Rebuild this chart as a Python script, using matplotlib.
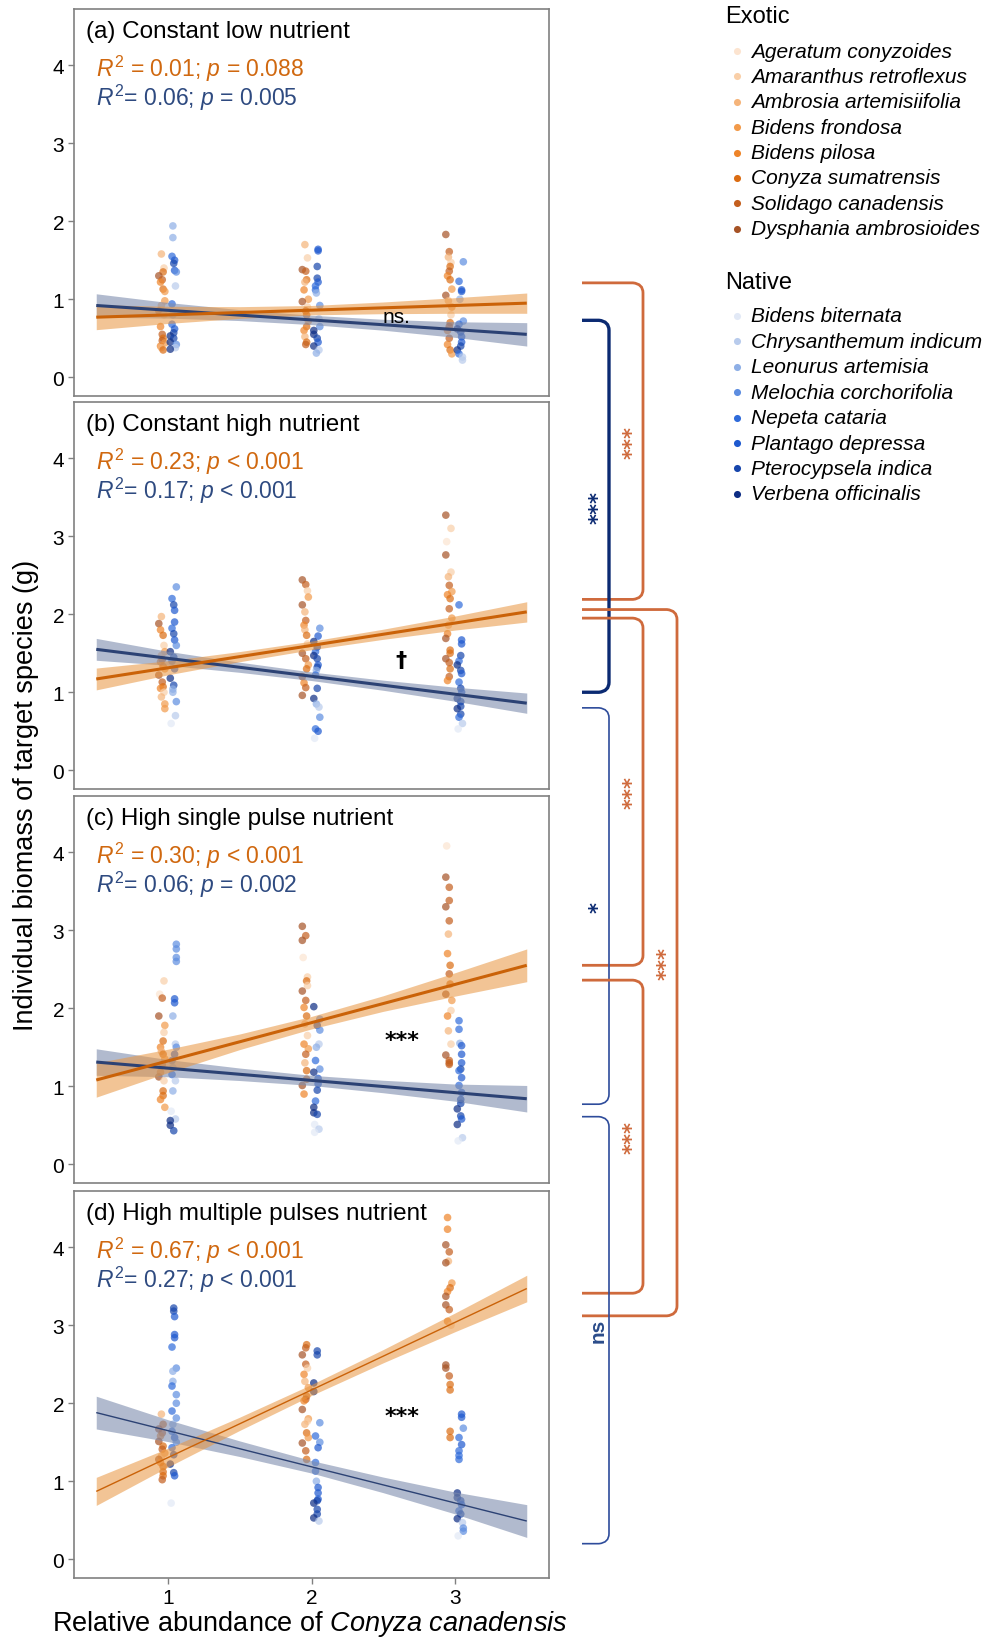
#!/usr/bin/env python3
"""Biomass of exotic vs native target species along Conyza canadensis abundance."""

import numpy as np
import matplotlib
matplotlib.use('Agg')
import matplotlib.pyplot as plt
from matplotlib.path import Path
from matplotlib.patches import PathPatch

plt.rcParams['font.family'] = ['Liberation Sans', 'DejaVu Sans']
plt.rcParams['mathtext.fontset'] = 'custom'
plt.rcParams['mathtext.rm'] = 'Liberation Sans'
plt.rcParams['mathtext.it'] = 'Liberation Sans:italic'

# ---- data -----------------------------------------------------------------
abundance = [1, 2, 3]

exotic_species = ['Ageratum conyzoides', 'Amaranthus retroflexus', 'Ambrosia artemisiifolia',
                  'Bidens frondosa', 'Bidens pilosa', 'Conyza sumatrensis',
                  'Solidago canadensis', 'Dysphania ambrosioides']
native_species = ['Bidens biternata', 'Chrysanthemum indicum', 'Leonurus artemisia',
                  'Melochia corchorifolia', 'Nepeta cataria', 'Plantago depressa',
                  'Pterocypsela indica', 'Verbena officinalis']
exotic_colors = ['#FCE4D0', '#F9CFA8', '#F5B47A', '#F29A4A', '#EE8428', '#DB6C12', '#C45F1E', '#A65326']
native_colors = ['#E2E9F6', '#B8CBEC', '#8EAFE6', '#5D8DE0', '#2F6BDA', '#1E59CF', '#1746AC', '#0D2D84']

panel_titles = ['(a) Constant low nutrient', '(b) Constant high nutrient',
                '(c) High single pulse nutrient', '(d) High multiple pulses nutrient']
exotic_stats = [r'$R^2$ = 0.01; $p$ = 0.088', r'$R^2$ = 0.23; $p$ < 0.001',
                r'$R^2$ = 0.30; $p$ < 0.001', r'$R^2$ = 0.67; $p$ < 0.001']
native_stats = [r'$R^2$= 0.06; $p$ = 0.005', r'$R^2$= 0.17; $p$ < 0.001',
                r'$R^2$= 0.06; $p$ = 0.002', r'$R^2$= 0.27; $p$ < 0.001']
slope_diff = ['ns.', '\u2020', '***', '***']
slope_diff_xy = [(2.59, 0.78), (2.62, 1.41), (2.63, 1.59), (2.63, 1.84)]

# individual biomass (g) per abundance level, with species code per point
exo_a = [[1.58, 1.40, 1.35, 1.30, 1.25, 1.22, 1.13, 1.10, 0.98, 0.92, 0.85, 0.80, 0.65, 0.55, 0.50, 0.47, 0.44, 0.40, 0.38, 0.35],
         [1.70, 1.53, 1.38, 1.36, 1.25, 1.22, 1.12, 1.00, 0.97, 0.90, 0.85, 0.80, 0.72, 0.65, 0.60, 0.52, 0.45, 0.42],
         [1.83, 1.61, 1.54, 1.47, 1.42, 1.36, 1.30, 1.25, 1.13, 1.05, 0.98, 0.90, 0.80, 0.70, 0.65, 0.60, 0.50, 0.42, 0.35, 0.30]]
exo_a_sp = ['21576453327146563425', '217652437165354256', '76215645372315646453']
nat_a = [[1.94, 1.79, 1.55, 1.50, 1.46, 1.37, 1.35, 1.17, 0.94, 0.80, 0.68, 0.62, 0.57, 0.53, 0.50, 0.45, 0.42, 0.38, 0.36],
         [1.64, 1.62, 1.42, 1.27, 1.22, 1.17, 1.12, 1.08, 0.92, 0.75, 0.65, 0.60, 0.55, 0.50, 0.45, 0.40, 0.35, 0.31],
         [1.48, 1.23, 1.12, 1.10, 1.00, 0.72, 0.68, 0.62, 0.58, 0.52, 0.45, 0.40, 0.35, 0.30, 0.26, 0.22]]
nat_a_sp = ['2245653142456767317', '556654423137765712', '3455234765567411']

exo_b = [[1.97, 1.88, 1.80, 1.73, 1.60, 1.52, 1.47, 1.42, 1.39, 1.33, 1.30, 1.22, 1.13, 1.07, 1.05, 1.00, 0.94, 0.85, 0.79],
         [2.44, 2.38, 2.30, 2.22, 2.12, 2.03, 1.92, 1.86, 1.80, 1.73, 1.62, 1.50, 1.43, 1.35, 1.30, 1.20, 1.12, 1.06, 0.96],
         [3.27, 3.10, 2.93, 2.76, 2.54, 2.48, 2.37, 2.29, 2.25, 2.20, 2.07, 1.95, 1.86, 1.75, 1.69, 1.54, 1.50, 1.43, 1.38, 1.30, 1.20, 1.15]]
exo_b_sp = ['2745132645376541233', '7613726425176357467', '7107126345632475576564']
nat_b = [[2.35, 2.20, 2.12, 2.05, 1.90, 1.82, 1.75, 1.67, 1.60, 1.52, 1.45, 1.40, 1.30, 1.18, 1.09, 1.04, 1.00, 0.88, 0.70, 0.60],
         [1.82, 1.72, 1.65, 1.58, 1.52, 1.47, 1.43, 1.35, 1.32, 1.28, 1.22, 1.05, 0.92, 0.85, 0.81, 0.68, 0.53, 0.50, 0.41],
         [2.12, 1.67, 1.62, 1.47, 1.40, 1.35, 1.28, 1.24, 1.13, 1.05, 1.00, 0.92, 0.88, 0.82, 0.79, 0.72, 0.68, 0.60, 0.53]]
nat_b_sp = ['34655465376457622310', '3576476562467213450', '4556476546576676410']

exo_c = [[2.35, 2.18, 2.13, 1.90, 1.78, 1.69, 1.58, 1.50, 1.45, 1.41, 1.35, 1.28, 1.18, 1.12, 1.07, 0.94, 0.88, 0.83, 0.73],
         [3.05, 2.93, 2.87, 2.65, 2.40, 2.35, 2.29, 2.22, 2.10, 2.01, 1.90, 1.80, 1.65, 1.54, 1.48, 1.41, 1.30, 1.20, 1.09, 1.01, 0.90],
         [4.08, 3.68, 3.55, 3.38, 3.30, 3.12, 2.95, 2.70, 2.55, 2.44, 2.31, 2.18, 2.10, 1.97, 1.90, 1.71, 1.54, 1.40, 1.33, 1.30, 1.28]]
exo_c_sp = ['1067315425364715543', '767015176452143625574', '076676245657314217666']
nat_c = [[2.82, 2.76, 2.65, 2.60, 2.12, 2.07, 1.90, 1.54, 1.50, 1.41, 1.33, 1.24, 1.15, 1.07, 0.94, 0.68, 0.58, 0.56, 0.50, 0.43],
         [2.02, 1.86, 1.78, 1.72, 1.54, 1.50, 1.33, 1.22, 1.18, 1.10, 1.03, 0.95, 0.81, 0.73, 0.66, 0.64, 0.51, 0.45, 0.41],
         [1.84, 1.73, 1.55, 1.52, 1.41, 1.30, 1.22, 1.20, 1.11, 1.01, 0.92, 0.83, 0.78, 0.71, 0.62, 0.58, 0.51, 0.34, 0.30]]
nat_c_sp = ['33335521354241201776', '7363124375564776010', '4425556454566765710']

exo_d = [[1.86, 1.73, 1.67, 1.62, 1.58, 1.51, 1.45, 1.41, 1.36, 1.32, 1.28, 1.24, 1.19, 1.12, 1.07, 1.02],
         [2.75, 2.71, 2.62, 2.50, 2.45, 2.37, 2.28, 2.20, 2.09, 2.05, 2.03, 1.92, 1.80, 1.77, 1.73, 1.62, 1.56, 1.49, 1.39, 1.28],
         [4.38, 4.23, 4.03, 3.94, 3.82, 3.80, 3.54, 3.48, 3.43, 3.37, 3.26, 3.20, 3.05, 3.00, 2.49, 2.45, 2.35, 2.24, 2.17, 1.64, 1.56]]
exo_d_sp = ['2576475632745556', '5676142356473125376', '447627354776417765555']
nat_d = [[3.22, 3.18, 3.11, 2.88, 2.84, 2.72, 2.45, 2.41, 2.28, 2.22, 2.11, 2.00, 1.90, 1.81, 1.73, 1.64, 1.56, 1.50, 1.43, 1.34, 1.22, 1.11, 1.07, 0.72],
         [2.67, 2.62, 2.26, 2.15, 1.75, 1.58, 1.50, 1.43, 1.24, 1.13, 1.00, 0.92, 0.85, 0.77, 0.75, 0.72, 0.64, 0.58, 0.53, 0.49],
         [1.86, 1.82, 1.68, 1.56, 1.47, 1.39, 1.33, 1.28, 0.85, 0.79, 0.75, 0.70, 0.62, 0.58, 0.52, 0.47, 0.40, 0.36, 0.30]]
nat_d_sp = ['665554322433432453467650', '66773435442555676671', '5534544477654671330']

# fitted lines: value at x = 0.5 and x = 3.5; confidence half-widths at band_x
line_x = [0.5, 3.5]
exo_fit = [[0.77, 0.95], [1.17, 2.03], [1.08, 2.55], [0.87, 3.47]]
nat_fit = [[0.92, 0.55], [1.55, 0.86], [1.31, 0.84], [1.88, 0.49]]
band_x = [0.5, 1.0, 1.5, 2.0, 2.5, 3.0, 3.5]
exo_band = [[0.16, 0.11, 0.075, 0.06, 0.075, 0.10, 0.13],
            [0.14, 0.09, 0.065, 0.055, 0.065, 0.09, 0.13],
            [0.22, 0.15, 0.10, 0.08, 0.10, 0.15, 0.21],
            [0.18, 0.12, 0.085, 0.07, 0.085, 0.12, 0.17]]
nat_band = [[0.15, 0.10, 0.07, 0.06, 0.07, 0.10, 0.15],
            [0.14, 0.09, 0.065, 0.055, 0.065, 0.09, 0.13],
            [0.17, 0.11, 0.08, 0.065, 0.08, 0.11, 0.17],
            [0.21, 0.14, 0.10, 0.08, 0.10, 0.14, 0.21]]

# pairwise comparisons between treatments: (group, panel_top, y_top, panel_bottom, y_bottom, label)
comparisons = [('exotic', 0, 1.21, 1, 2.19, '***'),
               ('native', 0, 0.73, 1, 1.00, '***'),
               ('exotic', 1, 2.06, 3, 3.12, '***'),
               ('exotic', 1, 1.95, 2, 2.55, '***'),
               ('native', 1, 0.80, 2, 0.77, '*'),
               ('exotic', 2, 2.36, 3, 3.41, '***'),
               ('native', 2, 0.61, 3, 0.20, 'ns')]

exo_points = [exo_a, exo_b, exo_c, exo_d]
exo_codes = [exo_a_sp, exo_b_sp, exo_c_sp, exo_d_sp]
nat_points = [nat_a, nat_b, nat_c, nat_d]
nat_codes = [nat_a_sp, nat_b_sp, nat_c_sp, nat_d_sp]

# ---- styling --------------------------------------------------------------
ORANGE = '#CA6208'
ORANGE_BAND = '#E8953F'
NAVY = '#2C4274'
NAVY_TEXT = '#2E4A80'
NAVY_BAND = '#7E8DAE'
BR_ORANGE = '#CF6A3C'
BR_NAVY = '#0B2A72'
BR_NAVY_THIN = '#2E4C9B'
SPINE = '#808080'
STAR_FONT = ['DejaVu Sans']

W, H = 989, 1640
fig = plt.figure(figsize=(W / 100, H / 100), dpi=100)
fig.patch.set_facecolor('white')

ax_left, ax_right = 74, 549
panel_tops = [10, 403, 797, 1192]
panel_h = 387
jitter = [-0.018, 0.012, -0.006, 0.018, -0.012, 0.006, 0.0, -0.024]

axes = []
for i in range(4):
    top = panel_tops[i]
    ax = fig.add_axes([ax_left / W, 1 - (top + panel_h) / H, (ax_right - ax_left) / W, panel_h / H])
    ax.set_xlim(0.345, 3.655)
    ax.set_ylim(-0.24, 4.72)
    for sp in ax.spines.values():
        sp.set_color(SPINE)
        sp.set_linewidth(1.2)
    ax.set_yticks([0, 1, 2, 3, 4])
    ax.tick_params(axis='y', labelsize=15, length=4, width=1, color=SPINE, pad=3)
    if i < 3:
        ax.set_xticks([])
    else:
        ax.set_xticks(abundance)
        ax.tick_params(axis='x', labelsize=15, length=4, width=1, color=SPINE, pad=3)

    for group, pts, codes, colors, shift in (
            ('exo', exo_points[i], exo_codes[i], exotic_colors, -0.04),
            ('nat', nat_points[i], nat_codes[i], native_colors, 0.04)):
        for xc, vals, code in zip(abundance, pts, codes):
            sp_idx = [int(code[k % len(code)]) % 8 for k in range(len(vals))]
            xs = [xc + shift + jitter[s] for s in sp_idx]
            cs = [colors[s] for s in sp_idx]
            ax.scatter(xs, vals, s=30, c=cs, alpha=0.7, linewidths=0, zorder=2)

    lw = 1.0 if i == 3 else 2.2
    for fit, band, col, bcol, balpha in ((nat_fit[i], nat_band[i], NAVY, NAVY_BAND, 0.6),
                                          (exo_fit[i], exo_band[i], ORANGE, ORANGE_BAND, 0.55)):
        centre = np.interp(band_x, line_x, fit)
        hw = np.array(band)
        ax.fill_between(band_x, centre - hw, centre + hw, color=bcol, alpha=balpha,
                        linewidth=0, zorder=3)
        ax.plot(line_x, fit, color=col, lw=lw, zorder=4, solid_capstyle='butt')

    ax.text(0.025, 0.943, panel_titles[i], transform=ax.transAxes, fontsize=17.5,
            va='center', ha='left', color='black')
    ax.text(0.046, 0.848, exotic_stats[i], transform=ax.transAxes, fontsize=16.5,
            va='center', ha='left', color='#D0680F')
    ax.text(0.046, 0.773, native_stats[i], transform=ax.transAxes, fontsize=16.5,
            va='center', ha='left', color=NAVY_TEXT)
    sx, sy = slope_diff_xy[i]
    if i == 0:
        ax.text(sx, sy, slope_diff[i], fontsize=15, ha='center', va='center',
                color='black', zorder=5)
    else:
        ax.text(sx, sy, slope_diff[i], fontsize=16, ha='center', va='center',
                color='black', fontweight='bold', family=STAR_FONT, zorder=5)
    axes.append(ax)

fig.text(26 / W, 1 - 795 / H, 'Individual biomass of target species (g)', rotation=90,
         fontsize=19.5, ha='center', va='center')
fig.text(310 / W, 1 - 1624 / H, r'Relative abundance of $\mathit{Conyza\ canadensis}$',
         fontsize=19.5, ha='center', va='center')

# overlay in pixel coordinates for legend and comparison brackets
over = fig.add_axes([0, 0, 1, 1], zorder=10)
over.set_xlim(0, W)
over.set_ylim(H, 0)
over.axis('off')
over.patch.set_alpha(0)


def to_px(ax, y):
    return H - ax.transData.transform((1.0, y))[1]


def bracket(x0, xv, ytop, ybot, color, lw):
    r = 10
    verts = [(x0, ytop), (xv - r, ytop), (xv, ytop + 1), (xv, ytop + r),
             (xv, ybot - r), (xv, ybot - 1), (xv - r, ybot), (x0, ybot)]
    codes = [Path.MOVETO, Path.LINETO, Path.CURVE3, Path.CURVE3,
             Path.LINETO, Path.CURVE3, Path.CURVE3, Path.LINETO]
    over.add_patch(PathPatch(Path(verts, codes), fill=False, edgecolor=color, lw=lw,
                             capstyle='butt'))


for group, p_top, y_top, p_bot, y_bot, label in comparisons:
    yt = to_px(axes[p_top], y_top)
    yb = to_px(axes[p_bot], y_bot)
    if group == 'exotic':
        xv = 677 if p_bot - p_top == 2 else 643
        color, lw = BR_ORANGE, 2.0
        txt_color = BR_ORANGE
    else:
        xv = 609
        thick = p_top == 0
        color, lw = (BR_NAVY, 2.4) if thick else (BR_NAVY_THIN, 1.2)
        txt_color = BR_NAVY if label != 'ns' else '#2B4C8A'
    bracket(582, xv, yt, yb, color, lw)
    if label == 'ns':
        over.text(xv - 11, (yt + yb) / 2, label, rotation=90, ha='center', va='center',
                  fontsize=15, fontweight='bold', color=txt_color)
    else:
        over.text(xv - 10, (yt + yb) / 2, label, rotation=90, ha='center', va='center',
                  fontsize=15, fontweight='bold', family=STAR_FONT, color=txt_color)

# legend
over.text(725, 17, 'Exotic', fontsize=17, ha='left', va='center')
for k, (name, col) in enumerate(zip(exotic_species, exotic_colors)):
    y = 52 + 25.4 * k
    over.scatter([737], [y], s=26, color=col, linewidths=0)
    over.text(751, y, name, fontsize=15, style='italic', ha='left', va='center')
over.text(725, 283, 'Native', fontsize=17, ha='left', va='center')
for k, (name, col) in enumerate(zip(native_species, native_colors)):
    y = 317 + 25.4 * k
    over.scatter([737], [y], s=26, color=col, linewidths=0)
    over.text(751, y, name, fontsize=15, style='italic', ha='left', va='center')

fig.savefig('out.png', dpi=100, facecolor='white')
